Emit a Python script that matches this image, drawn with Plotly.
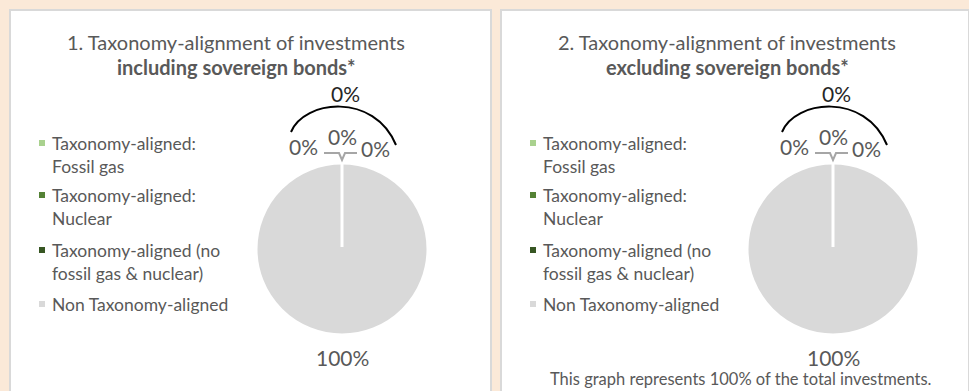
import math
import plotly.graph_objects as go

# ---- data ----
categories = [
    "Taxonomy-aligned: Fossil gas",
    "Taxonomy-aligned: Nuclear",
    "Taxonomy-aligned (no fossil gas & nuclear)",
    "Non Taxonomy-aligned",
]
legend_labels = [
    "Taxonomy-aligned:<br>Fossil gas",
    "Taxonomy-aligned:<br>Nuclear",
    "Taxonomy-aligned (no<br>fossil gas & nuclear)",
    "Non Taxonomy-aligned",
]
slice_colors = ["#A9D18E", "#548235", "#375623", "#D9D9D9"]

incl_sovereign = [0, 0, 0, 100]
excl_sovereign = [0, 0, 0, 100]

panel_titles = [
    ("1. Taxonomy-alignment of investments", "including sovereign bonds*"),
    ("2. Taxonomy-alignment of investments", "excluding sovereign bonds*"),
]
footer_text = "This graph represents 100% of the total investments."

# ---- layout constants (pixels) ----
W, H = 969, 391
BG = "#FBE9D8"
FONT = "Lato"
GREY_TXT = "#595959"
panel_x = [10, 501]          # left edge of each white panel
panel_w = [481, 468]
PIE_DX = 332                 # pie centre, relative to panel left edge
PIE_CY = 249
PIE_R = 86
ROTATION = 0                 # first slice starts at 12 o'clock, clockwise

fig = go.Figure()


def px_x(x):
    return x / W


def px_y(y):
    return 1 - y / H


def pct(v, total):
    return f"{round(100 * v / total):.0f}%"


annotations = []
shapes = []

for i, (vals, (t1, t2)) in enumerate(zip([incl_sovereign, excl_sovereign], panel_titles)):
    x0 = panel_x[i]
    cx = x0 + PIE_DX
    total = sum(vals)

    # white panel with thin grey border
    shapes.append(dict(type="rect", xref="x", yref="y", x0=x0, x1=x0 + panel_w[i],
                       y0=PIE_CY - 239, y1=H + 10, fillcolor="white",
                       line=dict(color="#D9D9D9", width=2), layer="below"))

    fig.add_trace(go.Pie(
        labels=categories, values=vals, sort=False, direction="clockwise",
        rotation=ROTATION, textinfo="none", hoverinfo="label+percent",
        marker=dict(colors=slice_colors, line=dict(color="white", width=3)),
        domain=dict(x=[px_x(cx - PIE_R), px_x(cx + PIE_R)],
                    y=[px_y(PIE_CY + PIE_R), px_y(PIE_CY - PIE_R)]),
        showlegend=False,
    ))

    # white slice separators, at each cumulative boundary of the values
    cum = 0
    seen = set()
    for v in vals:
        ang = math.radians(ROTATION + 360 * cum / total)
        key = round(ang, 6) % round(2 * math.pi, 6)
        if key not in seen:
            seen.add(key)
            ex = cx + PIE_R * math.sin(ang)
            ey = PIE_CY - PIE_R * math.cos(ang)
            shapes.append(dict(type="line", xref="x", yref="y", x0=cx, y0=PIE_CY - 2,
                               x1=ex, y1=ey, line=dict(color="white", width=3)))
        cum += v

    # title
    annotations.append(dict(x=x0 + 226, y=42, xref="x", yref="y", showarrow=False,
                            text=t1, font=dict(family=FONT, size=20, color=GREY_TXT),
                            xanchor="center", yanchor="middle"))
    annotations.append(dict(x=x0 + 226, y=67, xref="x", yref="y", showarrow=False,
                            text=f"<b>{t2}</b>", font=dict(family=FONT, size=20, color=GREY_TXT),
                            xanchor="center", yanchor="middle"))

    # legend
    leg_y = [143, 195, 250, 304]
    for lab, col, ly in zip(legend_labels, slice_colors, leg_y):
        shapes.append(dict(type="rect", xref="x", yref="y", x0=x0 + 29, x1=x0 + 35,
                           y0=ly - 3, y1=ly + 3, fillcolor=col, line=dict(width=0)))
        annotations.append(dict(x=x0 + 40, y=ly - 12, xref="x", yref="y", showarrow=False,
                                text=lab, align="left",
                                font=dict(family=FONT, size=17.5, color=GREY_TXT),
                                xanchor="left", yanchor="top"))

    # slice labels
    annotations.append(dict(x=cx, y=357, xref="x", yref="y", showarrow=False,
                            text=pct(vals[3], total), borderpad=0,
                            font=dict(family=FONT, size=21, color=GREY_TXT)))
    for v, (lx, ly) in zip(vals[:3], [(cx - 39, 146), (cx, 136), (cx + 33, 148)]):
        annotations.append(dict(x=lx, y=ly, xref="x", yref="y", showarrow=False,
                                text=pct(v, total), borderpad=0,
                                font=dict(family=FONT, size=21, color=GREY_TXT)))
    # leader line to the middle label
    shapes.append(dict(type="path", xref="x", yref="y",
                       path=f"M {cx-18},153 L {cx-3},153 L {cx},{PIE_CY-PIE_R-3} "
                            f"L {cx+3},153 L {cx+15},153",
                       line=dict(color="#A6A6A6", width=2)))

    # bracket over the taxonomy-aligned total
    aligned = sum(vals[:3])
    shapes.append(dict(type="path", xref="x", yref="y",
                       path=f"M {cx-51},132 C {cx-38},100 {cx+32},92 {cx+54},145",
                       line=dict(color="black", width=2)))
    annotations.append(dict(x=cx + 3, y=93, xref="x", yref="y", showarrow=False,
                            text=pct(aligned, total), borderpad=0,
                            font=dict(family=FONT, size=21, color="#262626")))

# footer on the second panel
annotations.append(dict(x=panel_x[1] + 240, y=390, xref="x", yref="y", showarrow=False,
                        text=footer_text, borderpad=0, yanchor="bottom",
                        font=dict(family=FONT, size=16.5, color=GREY_TXT)))

fig.update_layout(
    width=W, height=H, margin=dict(l=0, r=0, t=0, b=0),
    paper_bgcolor=BG, plot_bgcolor="rgba(0,0,0,0)",
    xaxis=dict(range=[0, W], visible=False, fixedrange=True),
    yaxis=dict(range=[H, 0], visible=False, fixedrange=True),
    shapes=shapes, annotations=annotations, showlegend=False,
)

fig.write_html("out.html")
